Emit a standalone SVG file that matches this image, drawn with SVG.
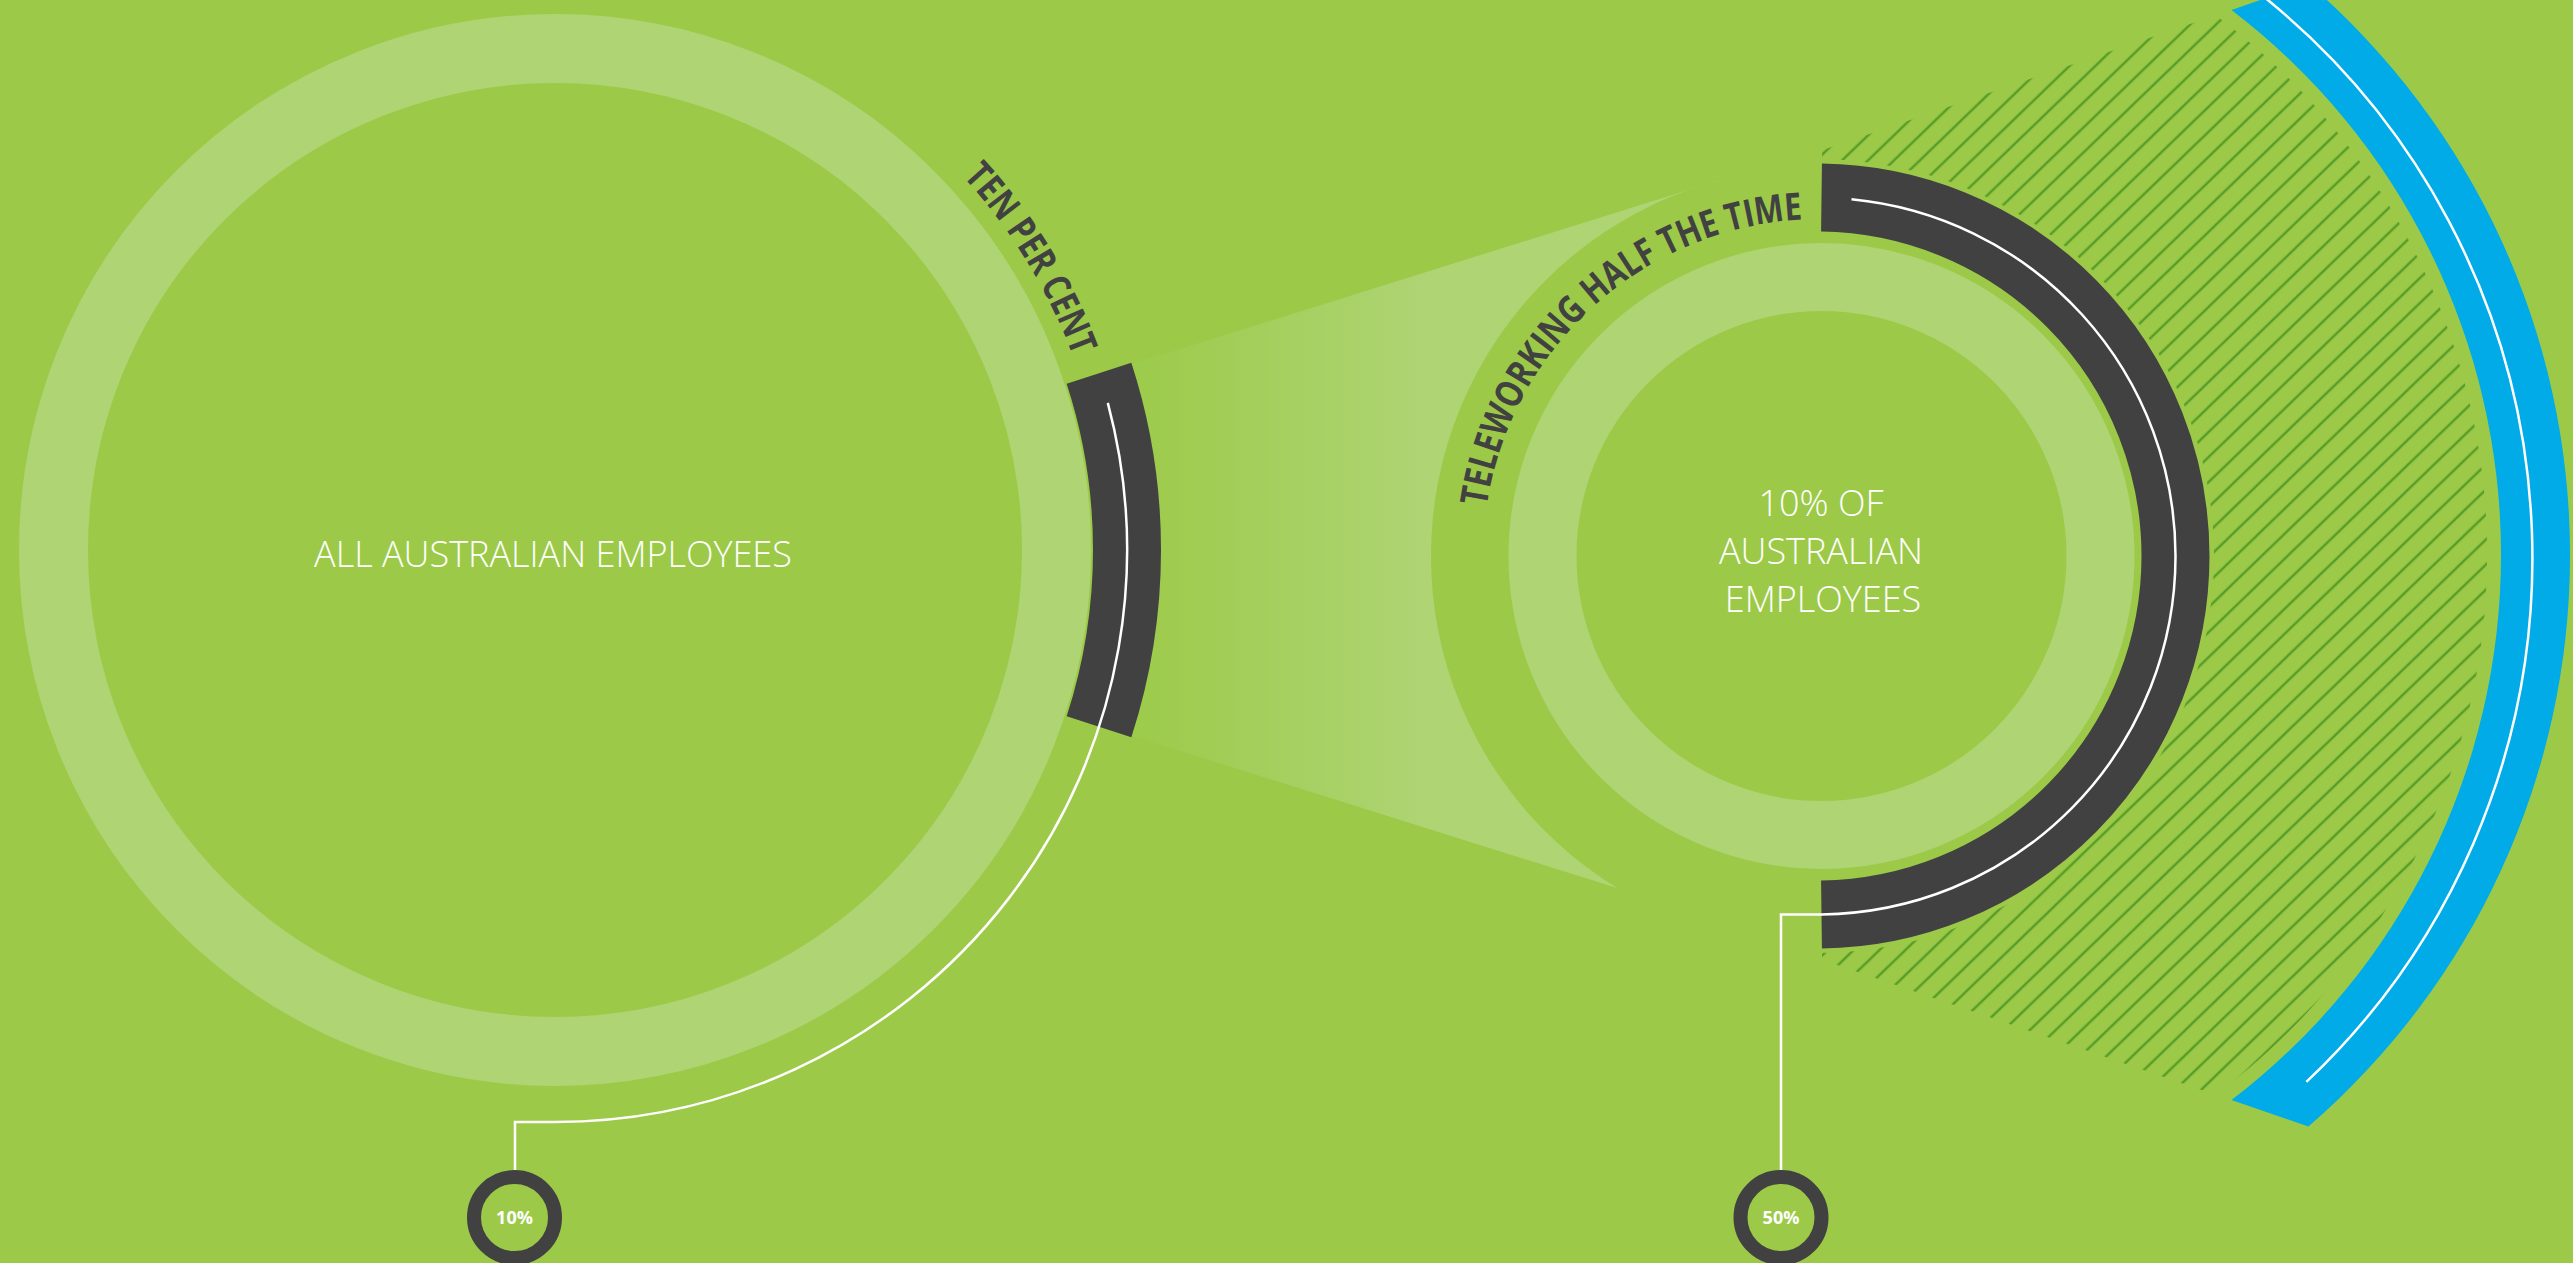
<svg xmlns="http://www.w3.org/2000/svg" width="2573" height="1263" viewBox="0 0 2573 1263">
  <style>
    .bg { fill: #9cca48; }
    .light-ring { fill: none; stroke: #aed474; }
    .dark-arc { fill: none; stroke: #414141; stroke-width: 68; stroke-linecap: butt; }
    .wline { fill: none; stroke: #ffffff; stroke-width: 2.5; }
    .badge { fill: #9cca48; stroke: #414141; stroke-width: 14; }
    .badge-text { font-family: "Open Sans", "Liberation Sans", sans-serif; font-weight: 700; font-size: 18px; fill: #ffffff; text-anchor: middle; }
    .center-text { font-family: "Open Sans", "Liberation Sans", sans-serif; font-weight: 300; font-size: 36px; fill: #ffffff; text-anchor: middle; }
    .arc-text { font-family: "Open Sans", "Liberation Sans", sans-serif; font-weight: 700; font-size: 38px; fill: #414141; }
  </style>
  <defs>
    <linearGradient id="coneGrad" gradientUnits="userSpaceOnUse" x1="1140" y1="0" x2="1430" y2="0">
      <stop offset="0" stop-color="#9dcb4b"/>
      <stop offset="1" stop-color="#aed474"/>
    </linearGradient>
    <pattern id="hatch" patternUnits="userSpaceOnUse" width="40" height="18" patternTransform="rotate(-44)">
      <rect width="40" height="18" fill="#9cca48"/>
      <line x1="0" y1="9" x2="40" y2="9" stroke="#589d28" stroke-width="2.3"/>
    </pattern>
    <path id="tenPath" d="M 814.6 61.7 A 553 553 0 0 1 1073 356.3"/>
    <path id="telePath" d="M 1484.3 585.4 A 337 337 0 0 1 1802.4 219.5"/>
  </defs>

  <rect class="bg" x="0" y="0" width="2573" height="1263"/>

  <!-- hatched zone -->
  <g id="hatch-zone">
    <path d="M 1822 150.3 L 2215.5 15.3 A 672 672 0 0 1 2215.5 1094.7 L 1822 959.7 Z" fill="url(#hatch)"/>
    <circle class="bg" cx="1817" cy="556" r="397"/>
  </g>

  <!-- blue outer arc -->
  <g id="blue-arc">
    <path d="M 2231.5 9.9 L 2308.4 -16.5 A 755 755 0 0 1 2308.4 1126.5 L 2231.5 1100.1 A 686 686 0 0 0 2231.5 9.9 Z" fill="#00abe8"/>
    <path class="wline" d="M 2263.5 -3.5 A 720.5 720.5 0 0 1 2306.4 1081.9"/>
  </g>

  <!-- cone joining the two circles -->
  <g id="cone">
    <path d="M 1131.7 364.3 L 1720 180 L 1720 920.3 L 1132.7 736 Z" fill="url(#coneGrad)"/>
  </g>

  <!-- right circle: 10% of Australian employees -->
  <g id="right-circle">
    <circle class="bg" cx="1820" cy="556" r="389"/>
    <circle class="light-ring" cx="1821.5" cy="556" r="279" stroke-width="68"/>
    <path class="dark-arc" d="M 1821.5 197.53 A 358.5 358.5 0 0 1 2175.5 556 A 358.5 358.5 0 0 1 1821.5 914.47"/>
    <text class="center-text" x="1821" y="516">10% OF</text>
    <text class="center-text" x="1821" y="564">AUSTRALIAN</text>
    <text class="center-text" x="1823" y="612">EMPLOYEES</text>
    <text class="arc-text"><textPath href="#telePath" startOffset="100%" text-anchor="end" textLength="462" lengthAdjust="spacingAndGlyphs">TELEWORKING HALF THE TIME</textPath></text>
  </g>

  <!-- left circle: all Australian employees -->
  <g id="left-circle">
    <circle class="light-ring" cx="555" cy="550" r="501.5" stroke-width="69"/>
    <path class="dark-arc" d="M 1099 373.2 A 572 572 0 0 1 1099 726.8"/>
    <text class="center-text" x="553" y="567">ALL AUSTRALIAN EMPLOYEES</text>
    <text class="arc-text"><textPath href="#tenPath" startOffset="100%" text-anchor="end" textLength="212" lengthAdjust="spacingAndGlyphs">TEN PER CENT</textPath></text>
  </g>

  <!-- connectors -->
  <g id="connectors">
    <path class="wline" d="M 1107.8 402.9 A 572 572 0 0 1 555 1122 L 515 1122 L 515 1171"/>
    <path class="wline" d="M 1851.5 199.2 A 358.5 358.5 0 0 1 2175.5 556 A 358.5 358.5 0 0 1 1821.5 914.47 L 1781 914.5 L 1781 1171"/>
  </g>

  <!-- badges -->
  <g id="badge-10">
    <circle class="badge" cx="514.5" cy="1217.5" r="40.5"/>
    <text class="badge-text" x="514.5" y="1224">10%</text>
  </g>
  <g id="badge-50">
    <circle class="badge" cx="1781" cy="1217.5" r="40.5"/>
    <text class="badge-text" x="1781" y="1224">50%</text>
  </g>
</svg>
